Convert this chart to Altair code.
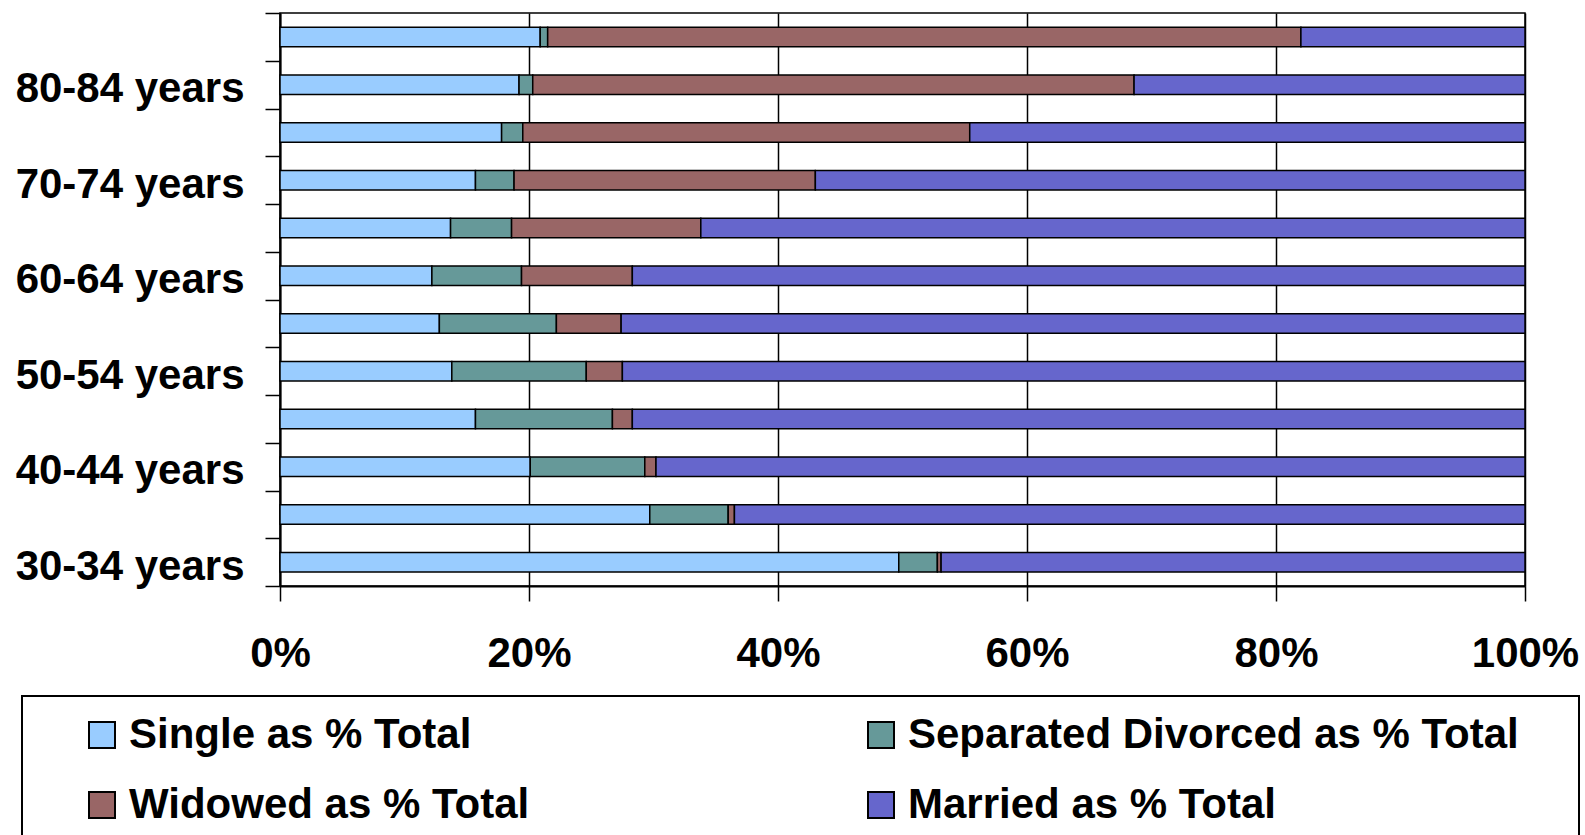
import altair as alt
import pandas as pd

# Age groups, bottom to top
ages = ["30-34 years", "35-39 years", "40-44 years", "45-49 years",
        "50-54 years", "55-59 years", "60-64 years", "65-69 years",
        "70-74 years", "75-79 years", "80-84 years", "85+ years"]
labeled_ages = ["30-34 years", "40-44 years", "50-54 years",
                "60-64 years", "70-74 years", "80-84 years"]

statuses = ["Single as % Total", "Separated Divorced as % Total",
            "Widowed as % Total", "Married as % Total"]
colors = ["#99CCFF", "#669999", "#996666", "#6666CC"]

# Share of each age group by marital status (%)
single = [49.7, 29.7, 20.1, 15.7, 13.8, 12.8, 12.2, 13.7, 15.7, 17.8, 19.2, 20.9]
separated = [3.1, 6.3, 9.2, 11.0, 10.8, 9.4, 7.2, 4.9, 3.1, 1.7, 1.1, 0.6]
widowed = [0.3, 0.5, 0.9, 1.6, 2.9, 5.2, 8.9, 15.2, 24.2, 35.9, 48.3, 60.5]
married = [46.9, 63.5, 69.8, 71.7, 72.5, 72.6, 71.7, 66.2, 57.0, 44.6, 31.4, 18.0]

series = [single, separated, widowed, married]
rows = []
for k, (status, vals) in enumerate(zip(statuses, series)):
    for age, v in zip(ages, vals):
        rows.append({"age": age, "status": status, "pct": v, "order": k})
df = pd.DataFrame(rows)

FONT = "Liberation Sans"
FS = 42

label_list = ",".join("'" + a + "'" for a in labeled_ages)

bars = alt.Chart(df).mark_bar(size=19.5, stroke="black", strokeWidth=1.5).encode(
    x=alt.X("pct:Q", stack="normalize", title=None,
            scale=alt.Scale(domain=[0, 1], nice=False),
            axis=alt.Axis(format=".0%", values=[0, 0.2, 0.4, 0.6, 0.8, 1.0],
                          grid=True, gridColor="black", gridWidth=1.5,
                          domainColor="black", domainWidth=2,
                          tickColor="black", tickWidth=1.5, tickSize=15,
                          labelFont=FONT, labelFontSize=FS, labelFontWeight="bold",
                          labelColor="black", labelPadding=32, labelFlush=False)),
    y=alt.Y("age:N", sort=list(reversed(ages)), title=None,
            scale=alt.Scale(paddingInner=0, paddingOuter=0),
            axis=alt.Axis(grid=False, tickBand="extent",
                          domainColor="black", domainWidth=2,
                          tickColor="black", tickWidth=1.5, tickSize=15,
                          labelFont=FONT, labelFontSize=FS, labelFontWeight="bold",
                          labelColor="black", labelPadding=21, labelOffset=4,
                          labelLimit=400,
                          labelExpr="indexof([" + label_list + "], datum.value) >= 0 ? datum.label : ''")),
    color=alt.Color("status:N", scale=alt.Scale(domain=statuses, range=colors),
                    legend=alt.Legend(title=None, orient="none", legendX=-199, legendY=701,
                                      direction="horizontal",
                                      columns=2, columnPadding=330, rowPadding=28,
                                      symbolType="square", symbolSize=676,
                                      symbolStrokeColor="black", symbolStrokeWidth=2,
                                      symbolOpacity=1,
                                      labelFont=FONT, labelFontSize=FS,
                                      labelFontWeight="bold", labelColor="black",
                                      labelOffset=6, labelLimit=2000, padding=0)),
    order=alt.Order("order:Q"),
)

# Frame around the legend
frame = alt.Chart(pd.DataFrame({"box": [0]})).mark_rect(
    fill="transparent", stroke="black", strokeWidth=2
).encode(
    x=alt.value(-258), x2=alt.value(1299), y=alt.value(683), y2=alt.value(900)
)

chart = alt.layer(bars, frame).properties(
    width=1245, height=573,
    autosize=alt.AutoSizeParams(type="none"),
    padding={"left": 280, "top": 13, "right": 60, "bottom": 250},
    background="white",
).configure_view(stroke="black", strokeWidth=1.5)

chart.save("out.html", embed_options={"renderer": "svg", "actions": False})
